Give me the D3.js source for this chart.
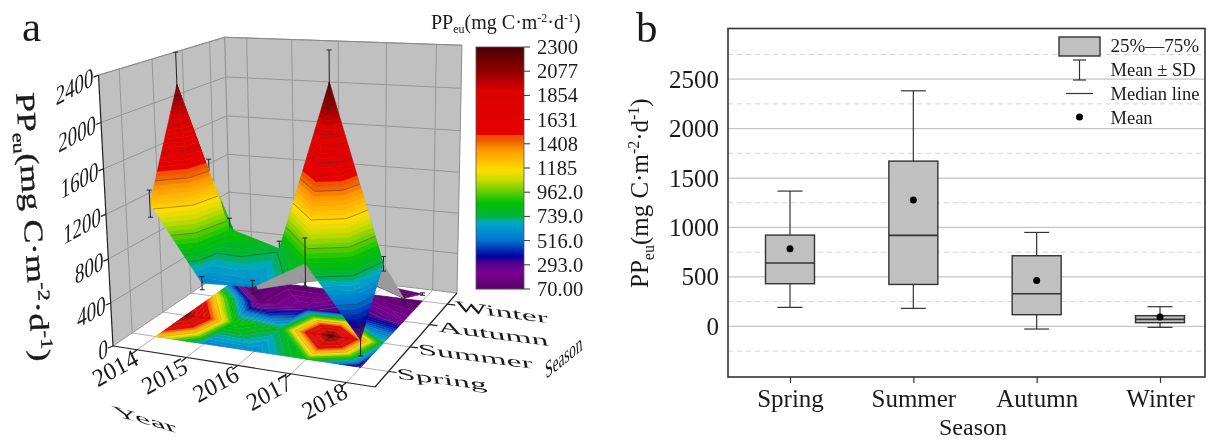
<!DOCTYPE html>
<html><head><meta charset="utf-8">
<script src="https://cdn.jsdelivr.net/npm/d3@7"></script>
<style>html,body{margin:0;background:#fff}svg{display:block}text{font-family:"Liberation Serif",serif;fill:#1a1a1a}</style>
</head><body><svg id="c" width="1213" height="441"></svg>
<script>
// ---------- data ----------
const years=[2014,2015,2016,2017,2018];
const seasons=["Spring","Summer","Autumn","Winter"];
const ppSpring=[1230,560,583,850,240];
const ppSummer=[2180,890,755,2270,723];
const ppAutumn=[1250,130,260,380,220];
const ppWinter=[90,110,100,120,70];
const sdSpring=[122,60,60,218,140];
const sdSummer=[290,100,70,270,65];
const sdAutumn=[120,30,40,60,35];
const sdWinter=[15,20,15,20,12];
const zTicks=[0,400,800,1200,1600,2000,2400];
const barTicks=["2300","2077","1854","1631","1408","1185","962.0","739.0","516.0","293.0","70.00"];
const barValues=[2300,2077,1854,1631,1408,1185,962,739,516,293,70];
const colorVals=[70,220,310,370,525,680,740,862,1074,1167,1350,1440,1492,1493,1900,2077,2300];
const colorHex=["#5a0068","#7a0090","#500090","#0000a0","#0078d0","#00a8c8","#00b43c","#00c000","#c8dc00","#ffdc00","#ff9a00","#f05a00","#f04800","#e60000","#dc0000","#900000","#4a0000"];
const boxSeasons=["Spring","Summer","Autumn","Winter"];
const whiskerHigh=[1368,2382,950,199];
const q3=[923,1671,714,108];
const median=[640,920,330,71];
const q1=[431,424,118,37];
const whiskerLow=[192,182,-27,-10];
const means=[785,1277,465,94];
const yMajor=[0,500,1000,1500,2000,2500];
const yMinor=[-250,250,750,1250,1750,2250,2750];
const legendLabels=["25%—75%","Mean ± SD","Median line","Mean"];

const svg=d3.select("#c");
const gridZ=[ppSpring,ppSummer,ppAutumn,ppWinter];
const gridSD=[sdSpring,sdSummer,sdAutumn,sdWinter];

function ppLabel(g,size){
  const s=Math.round(size*0.62), up=Math.round(size*0.36), dn=Math.round(size*0.22);
  g.append("tspan").text("PP");
  g.append("tspan").attr("font-size",s).attr("dy",dn).text("eu");
  g.append("tspan").attr("dy",-dn).text("(mg C·m");
  g.append("tspan").attr("font-size",s).attr("dy",-up).text("-2");
  g.append("tspan").attr("dy",up).text("·d");
  g.append("tspan").attr("font-size",s).attr("dy",-up).text("-1");
  g.append("tspan").attr("dy",up).text(")");
}

// ---------- panel a : projection ----------
const xS=d3.scaleLinear().domain([2013.5,2018.5]).range([0,1]);
const yS=d3.scalePoint().domain(seasons).range([0.14,0.86]);
const zS=d3.scaleLinear().domain([0,2400]).range([0,1]);
const cam={a:226.96,b:162.63,c:113,e:4.84,f:-28.61,k:346,g:-0.09344,h:0.1932,p:-19.94,q:-275,r:-0.055};
function proj(x,y,z){
  const w=1+cam.g*x+cam.h*y+cam.r*z;
  return [(cam.a*x+cam.b*y+cam.p*z+cam.c)/w,(cam.e*x+cam.f*y+cam.q*z+cam.k)/w];
}
const P=(yr,se,val)=>proj(xS(yr),yS(se),zS(val));
const poly=pts=>"M"+pts.map(p=>p[0].toFixed(2)+","+p[1].toFixed(2)).join("L")+"Z";

// walls and floor
const A=svg.append("g");
A.append("path").attr("d",poly([proj(0,0,0),proj(0,1,0),proj(0,1,1),proj(0,0,1)])).attr("fill","#c0c0c0");
A.append("path").attr("d",poly([proj(0,1,0),proj(1,1,0),proj(1,1,1),proj(0,1,1)])).attr("fill","#c0c0c0");
const gl=(a,b,col,w)=>A.append("line").attr("x1",a[0]).attr("y1",a[1]).attr("x2",b[0]).attr("y2",b[1]).attr("stroke",col||"#969696").attr("stroke-width",w||1);
zTicks.forEach(z=>{gl(proj(0,0,zS(z)),proj(0,1,zS(z)));gl(proj(0,1,zS(z)),proj(1,1,zS(z)));});
years.forEach(y=>{gl(proj(xS(y),1,0),proj(xS(y),1,1));gl(proj(xS(y),0,0),proj(xS(y),1,0),"#b0b0b0");});
seasons.forEach(s=>{gl(proj(0,yS(s),0),proj(0,yS(s),1));gl(proj(0,yS(s),0),proj(1,yS(s),0),"#b0b0b0");});
gl(proj(0,1,0),proj(0,1,1),"#8c8c8c");gl(proj(1,1,0),proj(1,1,1),"#8c8c8c");gl(proj(0,0,1),proj(0,1,1),"#8c8c8c");gl(proj(0,1,1),proj(1,1,1),"#8c8c8c");

// bands
const colorScale=d3.scaleLinear().domain(colorVals).range(colorHex).clamp(true);
const step=223/6;
const levels=d3.range(0,60).map(i=>70+i*step);
function clipBand(tri,lo,hi){
  const clip=(pts,keep,lim)=>{const out=[];pts.forEach((p,i)=>{const q=pts[(i+1)%pts.length];const kp=keep(p.v),kq=keep(q.v);
    if(kp)out.push(p);
    if(kp!==kq){const t=(lim-p.v)/(q.v-p.v);out.push({x:p.x+t*(q.x-p.x),y:p.y+t*(q.y-p.y),v:lim});}});return out;};
  let r=clip(tri,v=>v>=lo,lo); if(r.length<3)return null;
  r=clip(r,v=>v<=hi,hi); return r.length<3?null:r;
}
function isoSegment(tri,lim){
  const out=[];tri.forEach((p,i)=>{const q=tri[(i+1)%3];if((p.v<lim)!==(q.v<lim)){const t=(lim-p.v)/(q.v-p.v);out.push({x:p.x+t*(q.x-p.x),y:p.y+t*(q.y-p.y),v:lim});}});
  return out.length===2?out:null;
}
function vertex(i,j){
  const v=gridZ[j][i];return {x:xS(years[i]),y:yS(seasons[j]),v};
}
function toScreen(p,flat){return proj(p.x,p.y,flat?0:zS(p.v));}
function drawTriangle(g,tri,flat){
  const sc=tri.map(p=>toScreen(p,flat));
  const area=(sc[1][0]-sc[0][0])*(sc[2][1]-sc[0][1])-(sc[1][1]-sc[0][1])*(sc[2][0]-sc[0][0]);
  if(!flat&&area>0){
    g.append("path").attr("d",poly(sc)).attr("fill","#9a9a9a").attr("stroke","#9a9a9a").attr("stroke-width",.4);
    return;
  }
  levels.forEach((lo,k)=>{
    const r=clipBand(tri,k===0?-1e4:lo,lo+step); if(!r)return;
    const col=colorScale(lo+step/2);
    g.append("path").attr("d",poly(r.map(p=>toScreen(p,flat)))).attr("fill",col).attr("stroke",col).attr("stroke-width",.5);
  });
  barValues.forEach(l=>{const s=isoSegment(tri,l);if(!s)return;
    const a=toScreen(s[0],flat),b=toScreen(s[1],flat);
    g.append("line").attr("x1",a[0]).attr("y1",a[1]).attr("x2",b[0]).attr("y2",b[1]).attr("stroke",flat?"#7a7a3a":"#333").attr("stroke-opacity",flat?.45:.6).attr("stroke-width",.7);});
}
function cellTriangles(i,j){
  const a=vertex(i,j),b=vertex(i+1,j),c=vertex(i+1,j+1),d=vertex(i,j+1);
  return [[a,b,d],[b,c,d]];
}
// floor contour
const floorG=svg.append("g");
for(let j=0;j<3;j++)for(let i=0;i<4;i++)cellTriangles(i,j).forEach(t=>drawTriangle(floorG,t,true));

// axes of the box
const axA=svg.append("g");
const ax=(a,b,w)=>axA.append("line").attr("x1",a[0]).attr("y1",a[1]).attr("x2",b[0]).attr("y2",b[1]).attr("stroke","#222").attr("stroke-width",w||1.2);
ax(proj(0,0,0),proj(0,0,1));ax(proj(0,0,0),proj(1,0,0));ax(proj(1,0,0),proj(1,1,0));
zTicks.forEach(z=>{const p=proj(0,0,zS(z));ax(p,[p[0]-5,p[1]+2]);});
years.forEach(y=>{const p=proj(xS(y),0,0);ax(p,[p[0]-5,p[1]+4]);});
seasons.forEach(s=>{const p=proj(1,yS(s),0);ax(p,[p[0]+8,p[1]+1]);});
// tick labels
zTicks.forEach(z=>{const p=proj(0,0,zS(z));
  axA.append("text").attr("transform",`matrix(0.7,-0.38,0,1,${p[0]-5},${p[1]+10})`).attr("text-anchor","end").attr("font-size",27).text(z);});
years.forEach(y=>{const p=proj(xS(y),0,0);
  axA.append("text").attr("transform",`matrix(0.96,-0.54,0.5,1,${p[0]+3},${p[1]+14})`).attr("text-anchor","end").attr("font-size",22).text(y);});
seasons.forEach(s=>{const p=proj(1,yS(s),0);
  axA.append("text").attr("transform",`matrix(1.69,0.22,0.14,0.77,${p[0]+9},${p[1]+7})`).attr("font-size",20).text(s);});

// surface, back to front, with error bars
const surf=svg.append("g");
function errorBar(i,j){
  const y=years[i],s=seasons[j],v=gridZ[j][i],d=gridSD[j][i];
  const t=P(y,s,v+d),b=P(y,s,Math.max(v-d,0));
  const ln=(p,q)=>surf.append("line").attr("x1",p[0]).attr("y1",p[1]).attr("x2",q[0]).attr("y2",q[1]).attr("stroke","#222").attr("stroke-width",1);
  ln(t,b);ln([t[0]-2.5,t[1]],[t[0]+2.5,t[1]]);ln([b[0]-2.5,b[1]],[b[0]+2.5,b[1]]);
}
for(let j=3;j>=0;j--){
  years.forEach((_,i)=>errorBar(i,j));
  if(j>0){for(let i=0;i<4;i++)cellTriangles(i,j-1).forEach(t=>drawTriangle(surf,t,false));}
}

// titles
svg.append("text").attr("x",22).attr("y",41).attr("font-size",43).text("a");
const zt=svg.append("text").attr("transform","translate(16,93) rotate(86.5) scale(1.32,1)").attr("font-size",27).attr("stroke","#1a1a1a").attr("stroke-width",.35);
ppLabel(zt,27);
svg.append("text").attr("transform","matrix(1.7,0.47,0.4,0.8,116,416)").attr("font-size",20).text("Year");
svg.append("text").attr("transform","matrix(0.72,-0.58,0.1,1.3,546,379)").attr("font-size",18).text("Season");

// colour bar
const barY=d3.scaleLinear().domain([70,2300]).range([289,47]);
const barG=svg.append("g");
d3.range(47,289).forEach(py=>{barG.append("rect").attr("x",476).attr("width",48).attr("y",py).attr("height",1.2).attr("fill",colorScale(barY.invert(py+.5)));});
barG.append("rect").attr("x",476).attr("y",47).attr("width",48).attr("height",242).attr("fill","none").attr("stroke","#555").attr("stroke-width",.8);
barValues.forEach((v,i)=>{
  barG.append("line").attr("x1",524).attr("x2",530).attr("y1",barY(v)).attr("y2",barY(v)).attr("stroke","#333");
  barG.append("text").attr("x",537).attr("y",barY(v)+7).attr("font-size",20.5).text(barTicks[i]);
});
const bt=svg.append("text").attr("x",431).attr("y",29).attr("font-size",20);
ppLabel(bt,20);

// ---------- panel b ----------
const L=728,R=1205,T=28.5,B=377;
const by=d3.scaleLinear().domain([-512,3012]).range([B,T]);
const bx=d3.scalePoint().domain(boxSeasons).range([790,1160]);
const gb=svg.append("g");
yMinor.forEach(v=>gb.append("line").attr("x1",L).attr("x2",R).attr("y1",by(v)).attr("y2",by(v)).attr("stroke","#d4d4d4").attr("stroke-width",1).attr("stroke-dasharray","5 4"));
yMajor.forEach(v=>gb.append("line").attr("x1",L).attr("x2",R).attr("y1",by(v)).attr("y2",by(v)).attr("stroke","#c4c4c4").attr("stroke-width",1.2));
const yAxis=d3.axisLeft(by).tickValues(yMajor).tickSize(0).tickPadding(9).tickFormat(d3.format("d"));
const ga=gb.append("g").attr("transform",`translate(${L},0)`).call(yAxis);
ga.select(".domain").remove();ga.selectAll("text").attr("font-size",25).attr("font-family","Liberation Serif").attr("fill","#1a1a1a");
const xAxis=d3.axisBottom(bx).tickSize(6).tickPadding(6);
const gx=gb.append("g").attr("transform",`translate(0,${B})`).call(xAxis);
gx.select(".domain").remove();gx.selectAll("line").attr("stroke","#333").attr("stroke-width",1.2);
gx.selectAll("text").attr("font-size",25).attr("font-family","Liberation Serif").attr("fill","#1a1a1a");
const bw=49,cap=25;
const line=(x1,y1,x2,y2,w)=>gb.append("line").attr("x1",x1).attr("y1",y1).attr("x2",x2).attr("y2",y2).attr("stroke","#333").attr("stroke-width",w||1.2);
boxSeasons.forEach((s,i)=>{
  const x=bx(s);
  line(x,by(whiskerHigh[i]),x,by(whiskerLow[i]));
  line(x-cap/2,by(whiskerHigh[i]),x+cap/2,by(whiskerHigh[i]));
  line(x-cap/2,by(whiskerLow[i]),x+cap/2,by(whiskerLow[i]));
  gb.append("rect").attr("x",x-bw/2).attr("width",bw).attr("y",by(q3[i])).attr("height",by(q1[i])-by(q3[i])).attr("fill","#c0c0c0").attr("stroke","#333").attr("stroke-width",1.4);
  line(x-bw/2,by(median[i]),x+bw/2,by(median[i]),1.6);
  gb.append("circle").attr("cx",x).attr("cy",by(means[i])).attr("r",3.5).attr("fill","#000");
});
gb.append("rect").attr("x",L).attr("y",T).attr("width",R-L).attr("height",B-T).attr("fill","none").attr("stroke","#333").attr("stroke-width",1.6);
svg.append("text").attr("x",636).attr("y",42).attr("font-size",43).text("b");
const yt=svg.append("text").attr("transform","translate(648,288) rotate(-90)").attr("font-size",25);
ppLabel(yt,25);
svg.append("text").attr("x",973).attr("y",435).attr("text-anchor","middle").attr("font-size",24).text("Season");
// legend
const lg=svg.append("g");
lg.append("rect").attr("x",1059).attr("y",37).attr("width",41).attr("height",19).attr("fill","#c0c0c0").attr("stroke","#333").attr("stroke-width",1.4);
line(1079.5,60,1079.5,80);line(1073,60,1086,60);line(1073,80,1086,80);
line(1066,93.5,1093,93.5);
lg.append("circle").attr("cx",1079.5).attr("cy",117).attr("r",3.5).attr("fill","#000");
legendLabels.forEach((t,i)=>lg.append("text").attr("x",1110.5).attr("y",[52,76,100,124][i]).attr("font-size",i===0?19:18.5).text(t));
svg.style("filter","blur(0.35px)");
</script></body></html>
